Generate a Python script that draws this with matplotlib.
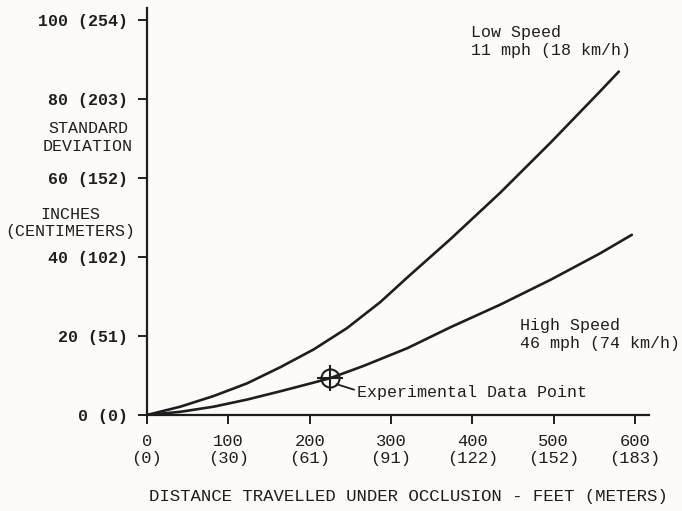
import matplotlib
matplotlib.use("Agg")
import matplotlib.pyplot as plt

# values (feet, inches)
low_x = [0, 41, 82, 123, 164, 205, 246, 287, 320, 373, 434, 496, 557, 580]
low_y = [0, 2.1, 4.8, 8.0, 12.1, 16.6, 22.0, 28.6, 34.8, 44.5, 56.2, 68.9, 81.9, 86.9]

high_x = [0, 41, 82, 123, 164, 205, 225, 266, 320, 373, 434, 496, 557, 596]
high_y = [0, 0.8, 2.1, 3.9, 6.0, 8.2, 9.3, 12.4, 16.9, 22.2, 27.9, 34.2, 40.9, 45.6]

exp_x = 225
exp_y = 9.3

xticks = [0, 100, 200, 300, 400, 500, 600]
xlabels = ["0\n(0)", "100\n(30)", "200\n(61)", "300\n(91)", "400\n(122)", "500\n(152)", "600\n(183)"]
yticks = [0, 20, 40, 60, 80, 100]
ylabels = ["0 (0)", "20 (51)", "40 (102)", "60 (152)", "80 (203)", "100 (254)"]

ink = "#1e1e1e"
bg = "#fcfbf7"
font = "Liberation Mono"
fs = 12

fig = plt.figure(figsize=(6.82, 5.11), dpi=100, facecolor=bg)
ax = fig.add_axes([0.2155, 0.1879, 0.736, 0.7965])
ax.set_facecolor(bg)

ax.plot(low_x, low_y, color=ink, lw=1.9, solid_capstyle="round", solid_joinstyle="round")
ax.plot(high_x, high_y, color=ink, lw=1.9, solid_capstyle="round", solid_joinstyle="round")

ax.plot(exp_x, exp_y, marker="o", ms=13, mfc="none", mec=ink, mew=1.5)
ax.plot(exp_x, exp_y, marker="+", ms=19, mec=ink, mew=1.5)

ax.set_xlim(0, 617)
ax.set_ylim(0, 103)

for s in ["top", "right"]:
    ax.spines[s].set_visible(False)
for s in ["left", "bottom"]:
    ax.spines[s].set_linewidth(1.6)
    ax.spines[s].set_color(ink)

ax.set_xticks(xticks)
ax.set_xticklabels(xlabels, family=font, fontsize=fs + 0.3, color=ink, linespacing=1.2)
ax.set_yticks(yticks)
ax.set_yticklabels(ylabels, family=font, fontsize=fs, color=ink, fontweight="bold")
ax.tick_params(axis="both", direction="out", length=6.5, width=1.4, color=ink)
ax.tick_params(axis="x", pad=7)
ax.tick_params(axis="y", pad=7)

ax.text(-72.5, 70.2, "STANDARD\nDEVIATION", family=font, fontsize=fs, color=ink,
        ha="center", va="center", linespacing=1.25, clip_on=False)
ax.text(-94.7, 48.5, "INCHES\n(CENTIMETERS)", family=font, fontsize=fs, color=ink,
        ha="center", va="center", linespacing=1.15, clip_on=False)

ax.text(398, 94.4, "Low Speed\n11 mph (18 km/h)", family=font, fontsize=fs, color=ink,
        ha="left", va="center", linespacing=1.25, clip_on=False)
ax.text(459, 20.4, "High Speed\n46 mph (74 km/h)", family=font, fontsize=fs, color=ink,
        ha="left", va="center", linespacing=1.25, clip_on=False)

ax.annotate("Experimental Data Point", xy=(exp_x + 8, exp_y - 1.5), xytext=(258, 5.8),
            family=font, fontsize=fs, color=ink, ha="left", va="center",
            arrowprops=dict(arrowstyle="-", color=ink, lw=1.3, shrinkA=0, shrinkB=0,
                            relpos=(0, 0.6)))

ax.text(0.52, -0.2015, "DISTANCE TRAVELLED UNDER OCCLUSION - FEET (METERS)",
        transform=ax.transAxes, family=font, fontsize=fs + 0.5, color=ink,
        ha="center", va="center")

fig.savefig("out.png", dpi=100, facecolor=bg)
